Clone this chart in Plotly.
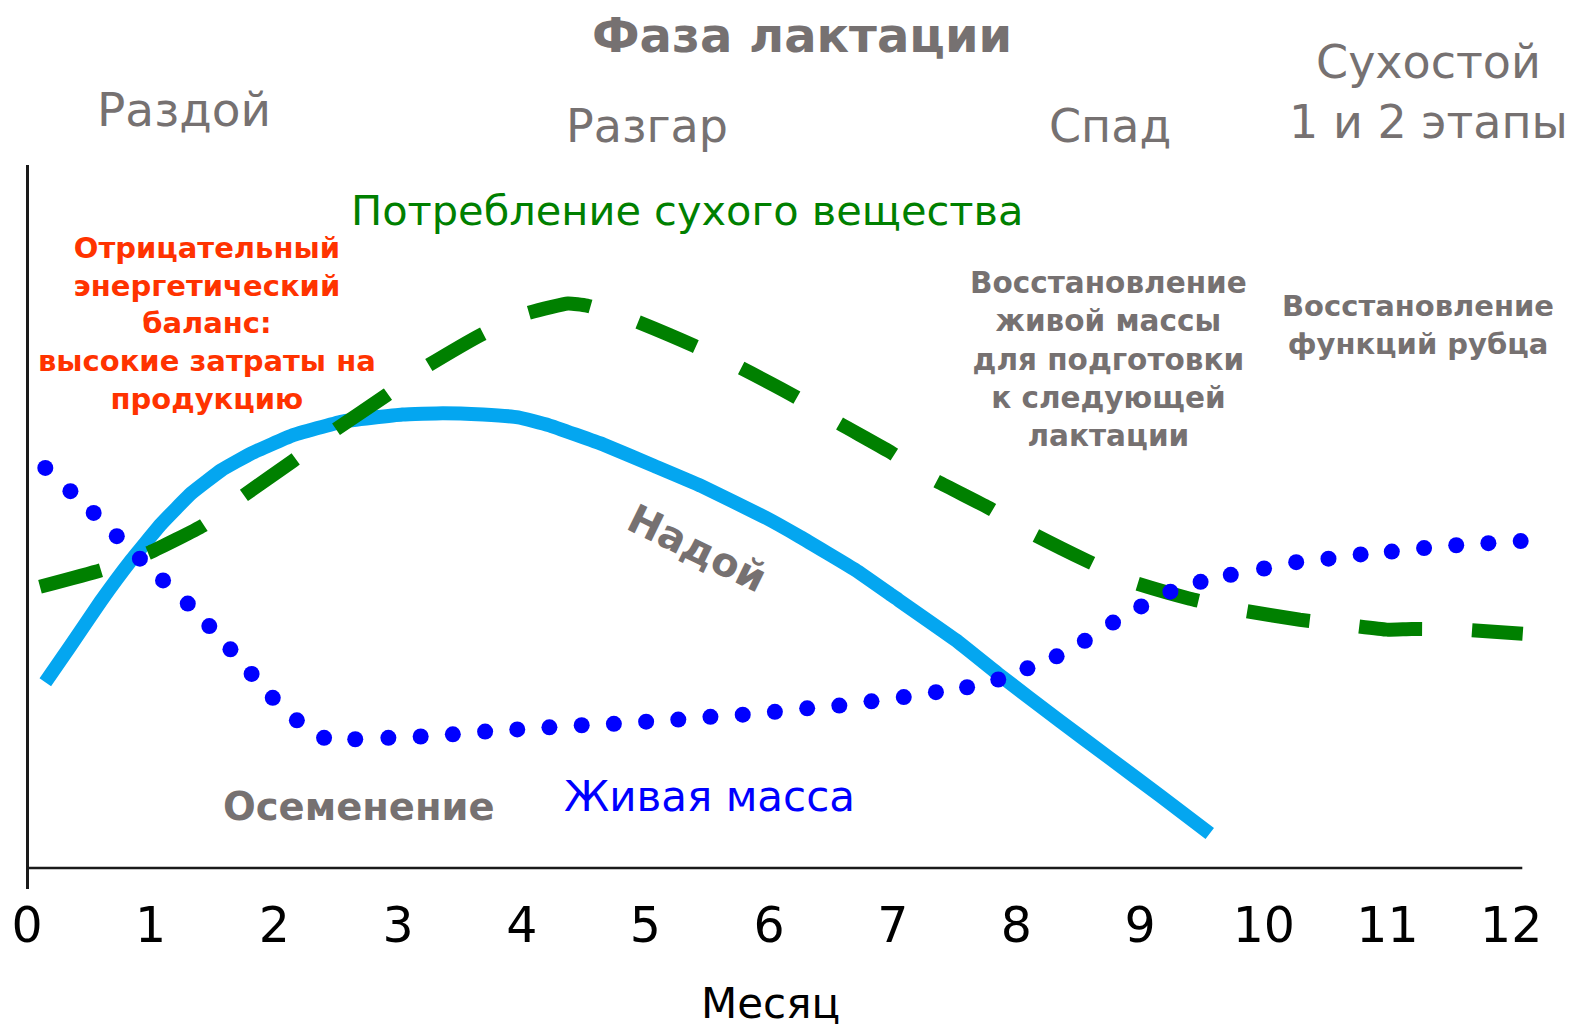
import plotly.graph_objects as go

# ---- data ----
months_milk = [0.148, 0.352, 0.595, 0.839, 1.083, 1.328, 1.572, 1.816, 2.141, 2.548, 3.036, 3.362,
               3.687, 3.972, 4.216, 4.664, 5.070, 5.444, 5.965, 6.250, 6.697, 7.007, 7.51, 7.866,
               8.351, 8.755, 9.159, 9.563]
milk_yield = [26.4, 31.6, 37.9, 43.7, 48.9, 53.3, 56.6, 59.0, 61.5, 63.5, 64.5, 64.7,
              64.5, 64.1, 63.0, 60.2, 57.2, 54.4, 49.9, 47.1, 42.4, 38.6, 32.4, 27.4,
              20.9, 15.6, 10.3, 4.9]

months_dmi = [0.105, 0.606, 0.994, 1.423, 1.746, 2.150, 2.466, 2.910, 3.209, 3.678, 4.026, 4.374,
              4.527, 4.907, 5.392, 5.764, 6.225, 6.532, 6.977, 7.316, 7.769, 8.125, 8.569, 8.933,
              9.402, 9.806, 10.291, 10.695, 10.994, 11.196, 11.601, 12.094]
dry_matter_intake = [40.0, 42.4, 44.9, 48.7, 52.9, 57.9, 62.0, 67.3, 71.1, 75.9, 78.8, 80.3,
                     80.0, 77.9, 74.3, 71.2, 66.9, 63.6, 59.2, 55.4, 51.3, 47.6, 43.7, 40.7,
                     38.3, 36.7, 35.3, 34.5, 33.9, 34.0, 33.9, 33.3]

months_bw = [0.148, 0.351, 0.539, 0.726, 0.913, 1.100, 1.300, 1.474, 1.645, 1.816, 1.987, 2.182,
             2.402, 2.654, 2.922, 3.183, 3.443, 3.704, 3.964, 4.224, 4.485, 4.745, 5.006, 5.266,
             5.526, 5.787, 6.047, 6.308, 6.568, 6.828, 7.089, 7.349, 7.601, 7.853, 8.089, 8.325,
             8.553, 8.781, 9.009, 9.245, 9.489, 9.733, 10.002, 10.262, 10.523, 10.783, 11.035,
             11.296, 11.556, 11.816, 12.077]
body_weight = [56.9, 53.6, 50.5, 47.2, 44.0, 40.9, 37.6, 34.4, 31.1, 27.6, 24.2, 21.0,
               18.5, 18.3, 18.5, 18.7, 19.0, 19.4, 19.7, 20.0, 20.3, 20.5, 20.8, 21.1,
               21.5, 21.8, 22.2, 22.7, 23.1, 23.7, 24.3, 25.0, 25.7, 26.8, 28.4, 30.1,
               32.3, 34.9, 37.2, 39.3, 40.7, 41.7, 42.6, 43.5, 44.0, 44.6, 45.0,
               45.5, 45.9, 46.2, 46.5]

tick_values = [0, 1, 2, 3, 4, 5, 6, 7, 8, 9, 10, 11, 12]
tick_labels = ["0", "1", "2", "3", "4", "5", "6", "7", "8", "9", "10", "11", "12"]

FONT = "DejaVu Sans"
GRAY = "#767171"

fig = go.Figure()
fig.add_trace(go.Scatter(x=months_milk, y=milk_yield, mode="lines", name="Надой",
                         line=dict(color="#04A6F0", width=14, shape="spline", smoothing=0.3)))
fig.add_trace(go.Scatter(x=months_dmi, y=dry_matter_intake, mode="lines",
                         name="Потребление сухого вещества",
                         line=dict(color="#008000", width=14, dash="63px,50px",
                                   shape="spline", smoothing=0.4)))
fig.add_trace(go.Scatter(x=months_bw, y=body_weight, mode="markers", name="Живая масса",
                         marker=dict(color="#0000FF", size=16), cliponaxis=False))

# horizontal axis line
fig.add_shape(type="line", xref="x", yref="y", x0=0, x1=12.09, y0=0, y1=0,
              line=dict(color="#1a1a1a", width=2.5))


def ann(text, x, y, size, color, angle=0, yref="y"):
    fig.add_annotation(text=text, x=x, y=y, xref="x", yref=yref, showarrow=False,
                       font=dict(family=FONT, size=size, color=color),
                       xanchor="center", yanchor="middle", textangle=angle, align="center")


# headers above the plotting area (paper coordinates)
ann("<b>Фаза лактации</b>", 6.265, 1.180, 48, GRAY, yref="paper")
ann("Раздой", 1.269, 1.077, 47, GRAY, yref="paper")
ann("Разгар", 5.012, 1.054, 46, GRAY, yref="paper")
ann("Спад", 8.755, 1.054, 46, GRAY, yref="paper")
ann("Сухостой<br>1 и 2 этапы", 11.334, 1.101, 46, GRAY, yref="paper")

ann("Потребление сухого вещества", 5.335, 93.5, 41.5, "#008000")
ann("<b>Отрицательный<br>энергетический<br>баланс:<br>высокие затраты на<br>продукцию</b>",
    1.455, 77.5, 29, "#FF3300")
ann("<b>Восстановление<br>живой массы<br>для подготовки<br>к следующей<br>лактации</b>",
    8.747, 72.3, 29.5, GRAY)
ann("<b>Восстановление<br>функций рубца</b>", 11.245, 77.2, 29, GRAY)
ann("<b>Надой</b>", 5.416, 45.5, 40, GRAY, angle=26)
ann("<b>Осеменение</b>", 2.684, 8.7, 38.5, GRAY)
ann("Живая масса", 5.521, 10.1, 42, "#0000FF")

# the page adds an 8px body margin; figure is sized/offset so the plot sits where the reference's does
fig.update_layout(
    width=1570, height=1020,
    margin=dict(l=7, r=52, t=157, b=139),
    paper_bgcolor="white", plot_bgcolor="white",
    showlegend=False,
    font=dict(family=FONT),
    xaxis=dict(range=[-0.097, 12.12], showgrid=False, zeroline=True, automargin=False,
               zerolinecolor="#1a1a1a", zerolinewidth=2.5,
               tickvals=tick_values, ticktext=tick_labels, ticks="",
               tickfont=dict(family=FONT, size=49, color="black"),
               ticklabelstandoff=3, showline=False,
               title=dict(text="Месяц", font=dict(family=FONT, size=42, color="black"),
                          standoff=38)),
    yaxis=dict(range=[-3, 100], showgrid=False, zeroline=False, automargin=False,
               showticklabels=False, ticks="", showline=False),
)

fig.write_html("out.html")
